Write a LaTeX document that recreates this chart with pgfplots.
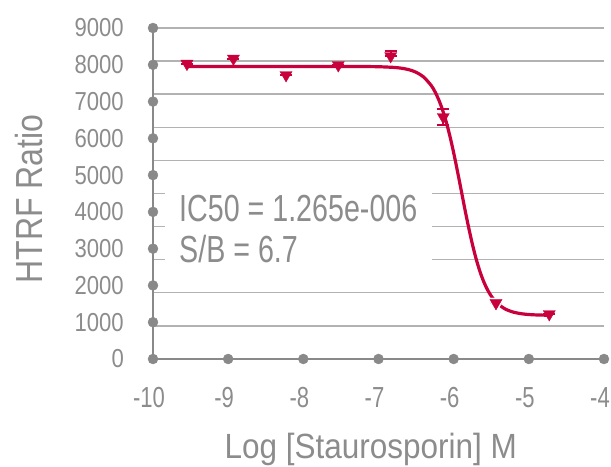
\documentclass[border=0pt]{standalone}
\usepackage{fontspec}
\setmainfont{Liberation Sans}[FakeStretch=0.8]
\newfontfamily\tickfont{Liberation Sans}[FakeStretch=0.85]
\newfontfamily\xtickfont{Liberation Sans}[FakeStretch=0.76]
\newfontfamily\xlabfont{Liberation Sans}[FakeStretch=0.9]
\newfontfamily\ylabfont{Liberation Sans}[FakeStretch=0.85]
\newfontfamily\notefont{Liberation Sans}[FakeStretch=0.76]
\usepackage{pgfplots}
\pgfplotsset{compat=1.18}
\definecolor{axgray}{RGB}{137,137,137}
\definecolor{gridgray}{RGB}{178,178,178}
\definecolor{txtgray}{RGB}{140,140,140}
\definecolor{crimson}{RGB}{200,0,60}

\begin{document}
\begin{tikzpicture}
\begin{axis}[
  scale only axis, width=451pt, height=331pt,
  xmin=-10, xmax=-4, ymin=0, ymax=9000,
  axis lines=left,
  axis line style={-, axgray, line width=1.8pt},
  xtick={-10,-9,-8,-7,-6,-5,-4},
  xticklabels={-10,-9,-8,-7,-6,-5,-4},
  ytick={0,1000,2000,3000,4000,5000,6000,7000,8000,9000},
  yticklabels={0,1000,2000,3000,4000,5000,6000,7000,8000,9000},
  minor ytick={900,1800,2700,3600,4500,5400,6300,7200,8100,9000},
  yminorgrids,
  minor grid style={gridgray, line width=1.4pt},
  major tick length=0pt, minor tick length=0pt,
  every tick label/.append style={text=txtgray, inner sep=0pt},
  yticklabel style={font=\tickfont\fontsize{26}{26}\selectfont},
  xticklabel style={font=\xtickfont\fontsize{29}{29}\selectfont, xshift=-4pt},
  xticklabel shift=28pt, yticklabel shift=29pt,
  xlabel={Log [Staurosporin] M},
  ylabel={HTRF Ratio},
  xlabel style={at={(axis description cs:0.483,-0.302)}, anchor=base,
    text=txtgray, font=\xlabfont\fontsize{35}{35}\selectfont},
  ylabel style={at={(axis description cs:-0.246,0.483)}, anchor=base,
    text=txtgray, font=\ylabfont\fontsize{37.7}{37.7}\selectfont},
  clip=false,
]
% dots on the tick positions
\addplot[only marks, mark=*, mark size=5pt, color=axgray]
  coordinates {(-10,0) (-9,0) (-8,0) (-7,0) (-6,0) (-5,0) (-4,0)
    (-10,1000) (-10,2000) (-10,3000) (-10,4000) (-10,5000)
    (-10,6000) (-10,7000) (-10,8000) (-10,9000)};

% white box behind the fit results
\fill[white] (axis cs:-9.84,2400) rectangle (axis cs:-6.29,4850);
\node[anchor=base west, text=txtgray, inner sep=0pt,
  font=\notefont\fontsize{37.7}{41}\selectfont] at (axis cs:-9.654,3752) {IC50 = 1.265e-006};
\node[anchor=base west, text=txtgray, inner sep=0pt,
  font=\notefont\fontsize{37.7}{41}\selectfont] at (axis cs:-9.654,2637) {S/B = 6.7};

% fitted curve
\addplot[crimson, line width=3.2pt, smooth] coordinates {
  (-9.55,7955) (-8.0,7955) (-7.5,7954) (-7.2,7952) (-7.0,7947)
  (-6.8,7929) (-6.7,7908) (-6.6,7869) (-6.5,7797) (-6.4,7668)
  (-6.3,7440) (-6.25,7272) (-6.2,7055) (-6.15,6785) (-6.1,6452)
  (-6.05,6059) (-6.0,5608) (-5.95,5111) (-5.9,4590) (-5.85,4067)
  (-5.8,3569) (-5.75,3113) (-5.7,2714) (-5.65,2377) (-5.6,2102)
  (-5.55,1882) (-5.5,1710) (-5.45,1578) (-5.4,1477) (-5.3,1344)
  (-5.2,1271) (-5.1,1231) (-5.0,1209) (-4.9,1198) (-4.73,1189)
};

% white halo that breaks the curve beside the -5.4 point
\addplot[only marks, mark=triangle*, mark size=10pt, white,
  mark options={rotate=180}] coordinates {(-5.437,1523)};

% measured points
\addplot[crimson, only marks, mark=triangle*, mark size=7pt,
  mark options={rotate=180},
  error bars/.cd, y dir=both, y explicit,
  error bar style={line width=2pt},
  error mark options={rotate=90, mark size=6pt, line width=2pt}]
  coordinates {
  (-9.548,8030) +- (0,0)
  (-8.93,8170) +- (0,0)
  (-8.23,7722) +- (0,0)
  (-7.535,7993) +- (0,0)
  (-6.838,8238) += (0,150) -= (0,0)
  (-6.138,6580) +- (0,231)
  (-5.437,1523) +- (0,0)
  (-4.728,1223) +- (0,0)
};
\end{axis}
\pgfresetboundingbox
\path (current axis.south west) ++(-153pt,-108pt) coordinate (bl);
\path (current axis.north east) ++(7pt,28pt) coordinate (tr);
\path (bl) rectangle (tr);
\end{tikzpicture}
\end{document}
